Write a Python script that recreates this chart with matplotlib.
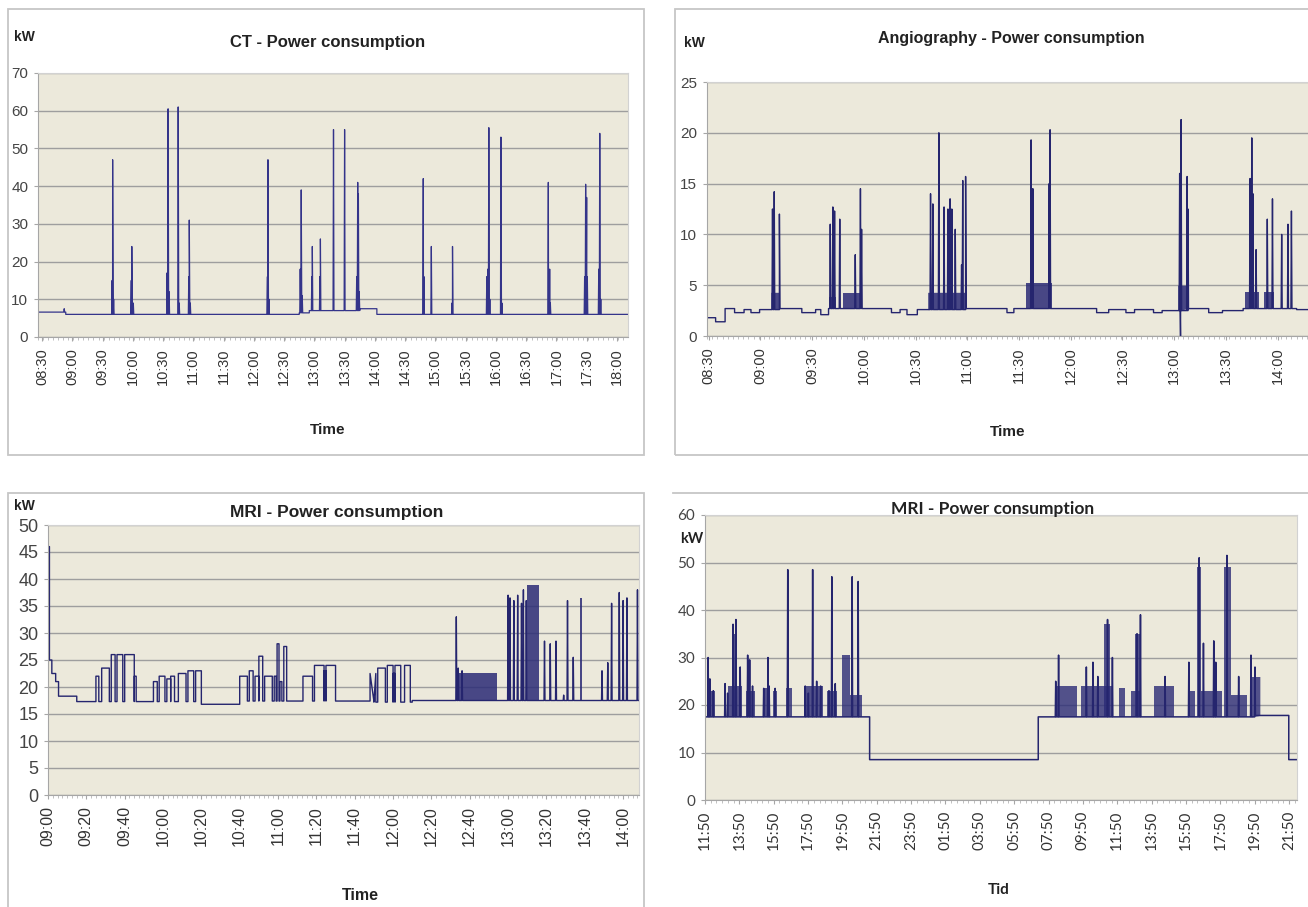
import numpy as np
import matplotlib
matplotlib.use("Agg")
import matplotlib.pyplot as plt
from matplotlib.patches import Rectangle
from matplotlib.lines import Line2D

plt.rcParams["font.family"] = ["Liberation Sans", "DejaVu Sans"]

# ---------------- data ----------------
# CT: baseline steps, then spikes (time, kW)
CT_seg_t = ["08:26", "08:53:30", "12:45", "12:55", "13:45", "14:02"]
CT_seg_v = [6.6, 6.0, 6.4, 7.0, 7.5, 6.0]
CT_spk_t = ["08:52", "09:39:30", "09:40", "09:41", "09:58:30", "09:59", "10:00:30",
            "10:34", "10:35", "10:36", "10:45", "10:46", "10:55:30", "10:56", "10:57",
            "12:13:30", "12:14", "12:15", "12:46", "12:47", "12:48", "12:57:30", "12:58",
            "13:05:30", "13:06", "13:19", "13:30", "13:42", "13:43", "13:43:40", "13:44:30",
            "14:48", "14:48:40", "14:56", "15:16:30", "15:17", "15:51", "15:52", "15:53",
            "15:54", "16:05", "16:06", "16:52", "16:52:40", "16:53:20", "16:54",
            "17:28", "17:29", "17:30", "17:30:40", "17:42", "17:43", "17:44"]
CT_spk_v = [7.5, 15, 47, 10, 15, 24, 9,
            17, 60.5, 12, 61, 9, 16, 31, 9,
            16, 47, 10, 18, 39, 11, 16, 24,
            16, 26, 55, 55, 16, 41, 38, 12,
            42, 16, 24, 9, 24, 16, 18, 55.5,
            10, 53, 9, 41, 16, 18, 9,
            16, 40.5, 37, 16, 18, 54, 10]
CT_ticks = ["08:30", "09:00", "09:30", "10:00", "10:30", "11:00", "11:30", "12:00", "12:30", "13:00",
            "13:30", "14:00", "14:30", "15:00", "15:30", "16:00", "16:30", "17:00", "17:30", "18:00"]

# Angiography
AN_seg_t = ["08:29", "08:34", "08:39:30", "08:45", "08:50:30", "08:54:30", "08:59:30", "09:11", "09:24",
            "09:32", "09:35", "09:39:30", "09:59", "10:16", "10:21", "10:25", "10:31", "10:59", "11:23",
            "11:27", "11:49", "12:15", "12:22", "12:32", "12:37", "12:48", "12:53", "13:08", "13:20",
            "13:28", "13:40", "14:11"]
AN_seg_v = [1.8, 1.4, 2.7, 2.3, 2.6, 2.3, 2.6, 2.7, 2.3,
            2.6, 2.1, 2.7, 2.7, 2.3, 2.6, 2.1, 2.6, 2.7, 2.3,
            2.7, 2.7, 2.3, 2.6, 2.3, 2.6, 2.3, 2.5, 2.7, 2.3,
            2.5, 2.7, 2.6]
AN_blk_start = ["09:06", "09:40", "09:48", "10:37", "11:34", "13:02", "13:41", "13:52"]
AN_blk_end = ["09:11", "09:44", "09:59", "10:59", "11:49", "13:08", "13:49", "13:58"]
AN_blk_lvl = [4.3, 3.8, 4.2, 4.3, 5.2, 5.0, 4.3, 4.3]
AN_spk_t = ["09:07", "09:08", "09:11", "09:40:30", "09:42", "09:43", "09:46", "09:55", "09:58",
            "09:58:40", "10:38:40", "10:40", "10:43:30", "10:46:30", "10:48:45", "10:50", "10:51",
            "10:53", "10:56:40", "10:57:20", "10:59", "11:37", "11:38", "11:47:30", "11:48",
            "13:03:10", "13:03:40", "13:04", "13:07:30", "13:08", "13:44", "13:45", "13:45:40",
            "13:47:30", "13:54", "13:57", "14:02:20", "14:06", "14:08"]
AN_spk_v = [12.5, 14.2, 12, 11, 12.7, 12.3, 11.5, 8, 14.5,
            10.5, 14, 13, 20, 12.7, 12.5, 13.5, 12.5,
            10.5, 7, 15.3, 15.7, 19.3, 14.5, 15, 20.3,
            16, 0, 21.3, 15.7, 12.5, 15.5, 19.5, 14,
            8.5, 11.5, 13.5, 10, 11, 12.3]
AN_ticks = ["08:30", "09:00", "09:30", "10:00", "10:30", "11:00", "11:30", "12:00",
            "12:30", "13:00", "13:30", "14:00"]

# MRI (day)
MR_seg_t = ["09:00", "09:00:45", "09:02", "09:04", "09:05:30", "09:15", "10:20", "10:40", "11:50", "12:10"]
MR_seg_v = [46, 25, 22.5, 21, 18.3, 17.3, 16.8, 17.4, 17.2, 17.5]
MR_pls_start = ["09:25", "09:28", "09:33", "09:36", "09:40", "09:45", "09:55", "09:58", "10:02", "10:04",
                "10:08", "10:13", "10:17", "10:40", "10:45", "10:48", "10:50", "10:53", "10:58",
                "10:59:30", "11:01", "11:03", "11:13", "11:19", "11:24", "11:25", "11:48", "11:52",
                "11:57", "12:00", "12:01", "12:06"]
MR_pls_end = ["09:26:30", "09:32", "09:35", "09:39", "09:45", "09:46", "09:57", "10:01", "10:04", "10:06",
              "10:12", "10:16", "10:20", "10:44", "10:47", "10:50", "10:52", "10:57", "10:59",
              "11:00:30", "11:02", "11:04:30", "11:18", "11:24", "11:25", "11:30", "11:51", "11:56",
              "12:00", "12:01", "12:04", "12:09"]
MR_pls_lvl = [22, 23.5, 26, 26, 26, 22, 21, 22, 21.5, 22,
              22.5, 23, 23, 22, 23, 22, 25.7, 22, 22,
              28, 21, 27.5, 22, 24, 23, 24, 22.5, 23.5,
              24, 22.5, 24, 24]
MR_blk_start = ["12:33", "13:10", "13:37:30"]
MR_blk_end = ["12:54", "13:16", "13:38:30"]
MR_blk_lvl = [22.5, 38.8, 36.5]
MR_spk_t = ["12:33", "12:34", "12:36", "13:00", "13:01", "13:03", "13:05", "13:07", "13:08", "13:09:30",
            "13:19", "13:22", "13:25", "13:29", "13:31", "13:34", "13:49", "13:52", "13:54", "13:58",
            "14:00", "14:02", "14:07:30"]
MR_spk_v = [33, 23.5, 23, 37, 36.5, 36, 37, 35.5, 38, 36,
            28.5, 28, 28.5, 18.5, 36, 25.5, 23, 24.5, 35.5, 37.5,
            36, 36.5, 38]
MR_ticks = ["09:00", "09:20", "09:40", "10:00", "10:20", "10:40", "11:00", "11:20", "11:40",
            "12:00", "12:20", "12:40", "13:00", "13:20", "13:40", "14:00"]

# MRI (two days, "+" = next day)
M2_seg_t = ["11:50", "21:25", "+07:14", "+19:50", "+21:49"]
M2_seg_v = [17.5, 8.5, 17.5, 17.8, 8.5]
M2_blk_start = ["12:00", "13:09", "13:25", "14:14", "15:12", "15:48", "16:32", "17:37", "18:56", "19:47",
                "20:16", "+08:11", "+09:44", "+11:05", "+11:56", "+12:38", "+12:52", "+13:57", "+16:01",
                "+16:29", "+16:44", "+18:03", "+18:26", "+19:38"]
M2_blk_end = ["12:26", "14:00", "13:42", "14:43", "15:38", "16:03", "16:53", "18:42", "19:32", "20:16",
              "20:59", "+09:30", "+11:32", "+11:26", "+12:16", "+13:14", "+13:14", "+15:08", "+16:22",
              "+16:44", "+17:55", "+18:26", "+19:23", "+20:08"]
M2_blk_lvl = [23, 24, 35, 23, 23.5, 23, 23.5, 24, 23, 30.5,
              22, 24, 24, 37, 23.5, 23, 35, 24, 23,
              49, 23, 49, 22, 26]
M2_spk_t = ["12:01", "12:07", "12:19", "13:00", "13:09", "13:28", "13:38", "13:53", "14:19", "14:26",
            "14:36", "15:15", "15:30", "15:34", "15:55", "16:39", "17:40", "17:51", "18:06", "18:20",
            "18:34", "19:03", "19:13", "19:25", "20:24", "20:45",
            "+08:15", "+08:25", "+10:02", "+10:25", "+10:42", "+11:16", "+11:33", "+12:59", "+13:11",
            "+14:37", "+16:00", "+16:36", "+16:51", "+17:27", "+17:34", "+18:13", "+18:54", "+19:37",
            "+19:51"]
M2_spk_v = [30, 25.5, 23, 24.5, 22.5, 37, 38, 28, 30.5, 29.5,
            24, 23.5, 30, 24, 23.5, 48.5, 24, 22.5, 48.5, 25,
            24, 23, 47, 24.5, 47, 46,
            25, 30.5, 28, 29, 26, 38, 30, 35, 39,
            26, 29, 51, 33, 33.5, 29, 51.5, 26, 30.5,
            28]

LINE = "#25256e"
FILL = "#2b2b76"
BG = "#ECE9DB"
W, H = 1308, 907


def tm(s):
    day = 0
    if s.startswith("+"):
        day, s = 1440, s[1:]
    p = [int(x) for x in s.split(":")]
    return day + p[0] * 60 + p[1] + (p[2] / 60 if len(p) > 2 else 0)


def base_line(seg_t, seg_v, end):
    t = [tm(s) for s in seg_t] + [end]
    xs, ys = [], []
    for i, v in enumerate(seg_v):
        xs += [t[i], t[i + 1]]
        ys += [v, v]
    return np.array(xs), np.array(ys)


def base_at(bx, by, x):
    i = np.searchsorted(bx, x, side="right") - 1
    return by[min(max(i, 0), len(by) - 1)]


def trace(bx, by, spk_t, spk_v, w, pls=None):
    pts = list(zip(bx, by))
    if pls:
        for a, b, lvl in zip(*pls):
            a, b = tm(a), tm(b)
            pts += [(a, base_at(bx, by, a)), (a + 1e-3, lvl), (b - 1e-3, lvl), (b, base_at(bx, by, b))]
    for t, v in zip(spk_t, spk_v):
        c = tm(t)
        pts += [(c - w, base_at(bx, by, c - w)), (c, v), (c + w, base_at(bx, by, c + w))]
    pts.sort(key=lambda p: p[0])
    return [p[0] for p in pts], [p[1] for p in pts]


fig = plt.figure(figsize=(W / 100, H / 100), dpi=100)


def px_axes(x0, y0, x1, y1):
    return fig.add_axes([x0 / W, 1 - y1 / H, (x1 - x0) / W, (y1 - y0) / H])


def txt(x, y, s, **kw):
    fig.text(x / W, 1 - y / H, s, ha="center", va="center", **kw)


def frame(x0, y0, x1, y1):
    fig.add_artist(Rectangle((x0 / W, 1 - y1 / H), (x1 - x0) / W, (y1 - y0) / H,
                             transform=fig.transFigure, fill=False, ec="#c6c6c6", lw=1.3))


def style(ax, xlim, ymax, ystep, ticks, labels, minor, ysize=11, xsize=10.5, family=None):
    ax.set_facecolor(BG)
    ax.set_xlim(*xlim)
    ax.set_ylim(0, ymax)
    ax.set_yticks(np.arange(0, ymax + 0.1, ystep))
    ax.yaxis.grid(True, color="#9e9e9e", lw=1)
    ax.set_axisbelow(True)
    for s in ["top", "right"]:
        ax.spines[s].set_color("#d2d2d2")
    for s in ["left", "bottom"]:
        ax.spines[s].set_color("#a6a6a6")
    ax.set_xticks(ticks)
    ax.set_xticklabels(labels, rotation=90)
    ax.set_xticks(np.arange(xlim[0], xlim[1], minor), minor=True)
    ax.tick_params(axis="x", which="major", length=3, color="#a6a6a6", labelsize=xsize,
                   labelcolor="#333333", pad=5)
    ax.tick_params(axis="x", which="minor", length=2.5, color="#b5b5b5")
    ax.tick_params(axis="y", length=3, color="#a6a6a6", labelsize=ysize, labelcolor="#444444", pad=4)
    if family:
        for lb in ax.get_xticklabels() + ax.get_yticklabels():
            lb.set_family(family)


# ---------------- CT ----------------
frame(8, 9, 644, 455)
ax = px_axes(38, 73, 628, 337)
xlim = (tm("08:26"), tm("18:11"))
bx, by = base_line(CT_seg_t, CT_seg_v, xlim[1])
x, y = trace(bx, by, CT_spk_t, CT_spk_v, 0.45)
ax.plot(x, y, color="#34348a", lw=0.9)
style(ax, xlim, 70, 10, [tm(s) for s in CT_ticks], CT_ticks, 5)
txt(328, 43, "CT - Power consumption", fontsize=12, fontweight="bold", color="#222222")
txt(24, 37, "kW", fontsize=10, fontweight="bold", color="#222222")
txt(328, 430, "Time", fontsize=11, fontweight="bold", color="#222222")

# ---------------- Angiography ----------------
frame(675, 9, 1320, 455)
ax = px_axes(707, 82, 1320, 336)
xlim = (tm("08:29"), tm("08:29") + 613 / 1.724)
bx, by = base_line(AN_seg_t, AN_seg_v, xlim[1])
for a, b, lvl in zip(AN_blk_start, AN_blk_end, AN_blk_lvl):
    xx = np.array([tm(a), tm(b)])
    ax.fill_between(xx, [base_at(bx, by, v) for v in xx], lvl, color=FILL, alpha=0.85, lw=0)
x, y = trace(bx, by, AN_spk_t, AN_spk_v, 0.3)
ax.plot(x, y, color=LINE, lw=1.0)
style(ax, xlim, 25, 5, [tm(s) for s in AN_ticks], AN_ticks, 3)
txt(1011, 39, "Angiography - Power consumption", fontsize=11.5, fontweight="bold", color="#222222")
txt(694, 43, "kW", fontsize=10, fontweight="bold", color="#222222")
txt(1008, 432, "Time", fontsize=11, fontweight="bold", color="#222222")

# ---------------- MRI (day) ----------------
frame(8, 493, 644, 915)
ax = px_axes(48, 525, 639, 795)
xlim = (tm("09:00"), tm("09:00") + 591 / 1.917)
bx, by = base_line(MR_seg_t, MR_seg_v, xlim[1])
for a, b, lvl in zip(MR_blk_start, MR_blk_end, MR_blk_lvl):
    xx = np.array([tm(a), tm(b)])
    ax.fill_between(xx, [base_at(bx, by, v) for v in xx], lvl, color=FILL, alpha=0.85, lw=0)
x, y = trace(bx, by, MR_spk_t, MR_spk_v, 0.25, (MR_pls_start, MR_pls_end, MR_pls_lvl))
ax.plot(x, y, color=LINE, lw=1.0)
style(ax, xlim, 50, 5, [tm(s) for s in MR_ticks], MR_ticks, 2.5, ysize=13, xsize=11.5)
txt(337, 512, "MRI - Power consumption", fontsize=12.5, fontweight="bold", color="#222222")
txt(24, 506, "kW", fontsize=10, fontweight="bold", color="#222222")
txt(360, 895, "Time", fontsize=11.5, fontweight="bold", color="#222222")

# ---------------- MRI (two days) ----------------
fig.add_artist(Line2D([673 / W, 1], [1 - 493 / H, 1 - 493 / H], transform=fig.transFigure,
                      color="#c6c6c6", lw=1.3))
ax = px_axes(705, 515, 1297, 800)
xlim = (tm("11:50"), tm("11:50") + 592 / 0.2863)
bx, by = base_line(M2_seg_t, M2_seg_v, xlim[1])
for a, b, lvl in zip(M2_blk_start, M2_blk_end, M2_blk_lvl):
    xx = np.array([tm(a), tm(b)])
    ax.fill_between(xx, [base_at(bx, by, v) for v in xx], lvl, color=FILL, alpha=0.8, lw=0)
x, y = trace(bx, by, M2_spk_t, M2_spk_v, 1.5)
ax.plot(x, y, color=LINE, lw=1.1)
m2_ticks = np.arange(tm("11:50"), tm("+21:51"), 120)
m2_labels = ["%02d:%02d" % ((m % 1440) // 60, m % 60) for m in m2_ticks.astype(int)]
style(ax, xlim, 60, 10, m2_ticks, m2_labels, 20, ysize=11, xsize=11, family=["Lato", "DejaVu Sans"])
txt(993, 509, "MRI - Power consumption", fontsize=12.5, fontweight="bold", color="#222222",
    family=["Lato", "DejaVu Sans"])
txt(692, 539, "kW", fontsize=10.5, fontweight="bold", color="#222222", family=["Lato", "DejaVu Sans"])
txt(999, 890, "Tid", fontsize=11, fontweight="bold", color="#222222", family=["Lato", "DejaVu Sans"])

fig.savefig("out.png", dpi=100, facecolor="white")
